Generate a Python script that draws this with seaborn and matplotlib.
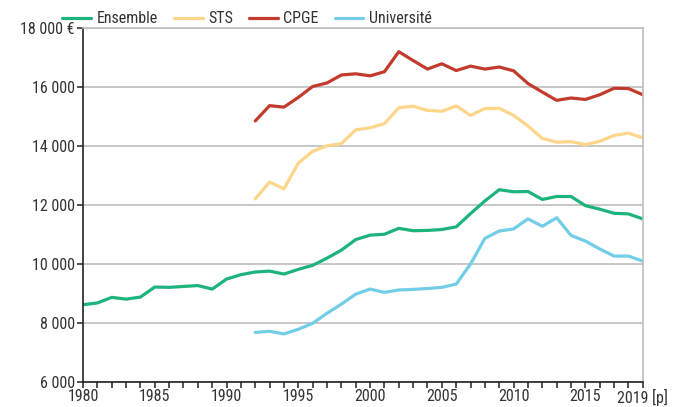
import numpy as np
import pandas as pd
import matplotlib
matplotlib.use("Agg")
import matplotlib.pyplot as plt
import seaborn as sns

# === DATA (dépense moyenne par étudiant, en euros) ===
years = list(range(1980, 2020))

ensemble = [8620, 8680, 8870, 8810, 8880, 9220, 9210, 9240, 9270, 9150,
            9490, 9640, 9730, 9760, 9660, 9820, 9955, 10200, 10470, 10830,
            10980, 11010, 11210, 11130, 11140, 11170, 11260, 11710, 12140, 12520,
            12450, 12460, 12190, 12290, 12290, 11980, 11860, 11720, 11700, 11530]

sts = [np.nan] * 12 + [
    12210, 12780, 12550, 13420, 13820, 14010, 14080, 14550,
    14620, 14760, 15300, 15350, 15210, 15180, 15360, 15040, 15270, 15280,
    15040, 14680, 14260, 14130, 14150, 14050, 14160, 14360, 14440, 14280]

cpge = [np.nan] * 12 + [
    14850, 15370, 15320, 15650, 16020, 16140, 16410, 16450,
    16380, 16520, 17200, 16900, 16610, 16790, 16560, 16710, 16610, 16680,
    16550, 16120, 15830, 15550, 15630, 15580, 15740, 15960, 15950, 15740]

universite = [np.nan] * 12 + [
    7680, 7720, 7630, 7790, 7990, 8330, 8640, 8980,
    9150, 9040, 9120, 9140, 9170, 9210, 9320, 10000, 10870, 11120,
    11190, 11530, 11280, 11570, 10970, 10780, 10510, 10270, 10270, 10100]

series_names = ["Ensemble", "STS", "CPGE", "Université"]
colors = ["#1db37c", "#fdd68a", "#c23b2c", "#72cde6"]

y_ticks = [6000, 8000, 10000, 12000, 14000, 16000, 18000]
y_labels = ["6 000", "8 000", "10 000", "12 000", "14 000", "16 000", "18 000 €"]
x_label_years = [1980, 1985, 1990, 1995, 2000, 2005, 2010, 2015, 2019]
x_label_text = ["1980", "1985", "1990", "1995", "2000", "2005", "2010", "2015", "2019 [p]"]

# === DataFrame long ===
wide = pd.DataFrame({"annee": years, "Ensemble": ensemble, "STS": sts,
                     "CPGE": cpge, "Université": universite})
df = wide.melt(id_vars="annee", var_name="serie", value_name="depense").dropna()

# === Style ===
sns.set_theme(style="white")
plt.rcParams["font.family"] = ["Roboto Condensed", "DejaVu Sans"]
plt.rcParams["text.color"] = "#333333"

fig = plt.figure(figsize=(6.86, 4.07), dpi=100)
ax = fig.add_axes([0.121, 0.0614, 0.816, 0.8696])

sns.lineplot(data=df, x="annee", y="depense", hue="serie", hue_order=series_names,
             palette=colors, linewidth=2.3, ax=ax, errorbar=None)

ax.set_xlim(1980, 2019)
ax.set_ylim(6000, 18000)
ax.set_yticks(y_ticks)
ax.set_yticklabels(y_labels)
ax.set_xticks(years)
ax.set_xticklabels([x_label_text[x_label_years.index(y)] if y in x_label_years else ""
                    for y in years])
ax.set_xlabel("")
ax.set_ylabel("")

ax.grid(axis="y", color="#bdbdbd", linewidth=1.2)
ax.set_axisbelow(True)
ax.tick_params(axis="both", direction="out", length=4.5, width=1.1, color="#222222",
               labelsize=11.5, labelcolor="#333333", bottom=True, left=True)
ax.tick_params(axis="x", pad=0.5)
ax.tick_params(axis="y", pad=1.5)

for side in ["left", "bottom"]:
    ax.spines[side].set_color("#222222")
    ax.spines[side].set_linewidth(1.2)
for side in ["top", "right"]:
    ax.spines[side].set_color("#bdbdbd")
    ax.spines[side].set_linewidth(1.2)

handles, labels = ax.get_legend_handles_labels()
ax.legend(handles, labels, ncol=4, frameon=False, loc="lower left",
          bbox_to_anchor=(-0.037, 1.005), fontsize=11.5, handlelength=1.8,
          handletextpad=0.35, columnspacing=1.0, borderaxespad=0, borderpad=0)

fig.savefig("out.png", dpi=100)
